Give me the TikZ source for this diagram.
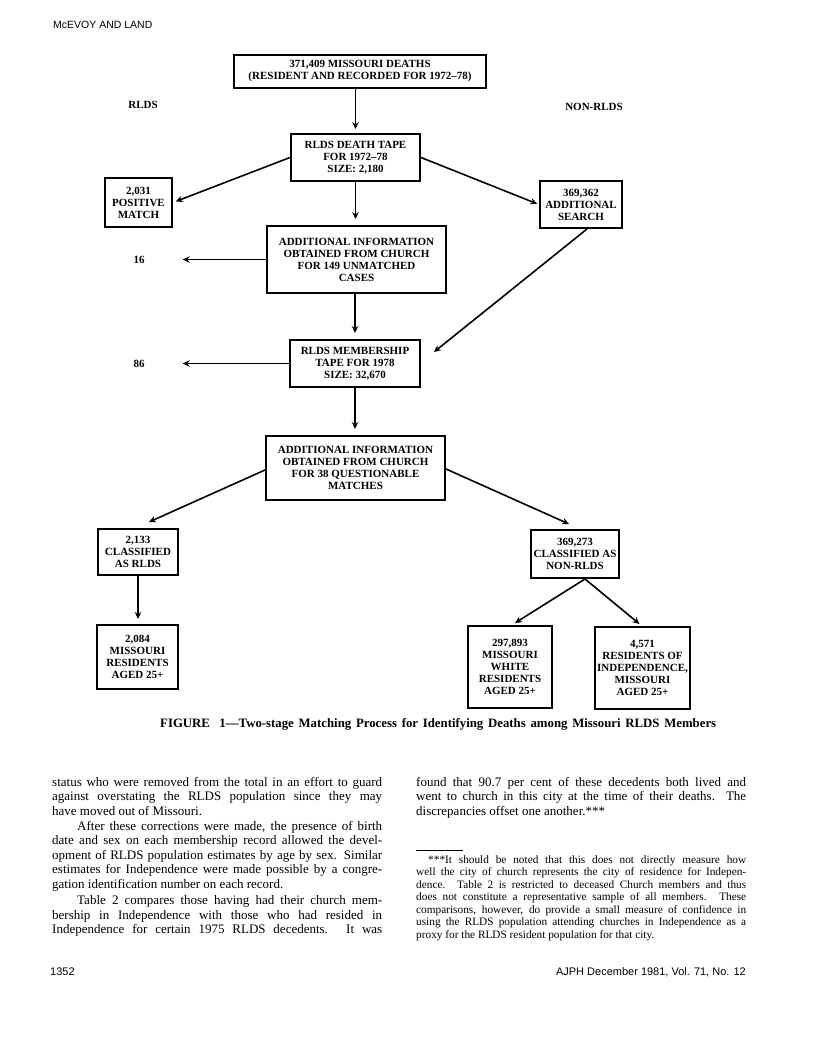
\documentclass[tikz,border=0pt]{standalone}
\usepackage{fontspec}
\setmainfont{Liberation Serif}
\newfontfamily\hsans{Liberation Sans}
\usetikzlibrary{arrows.meta,calc}
\newcommand{\boxfont}{\bfseries\fontsize{11}{12}\selectfont}
\newcommand{\bodyfont}{\fontsize{13}{14.3}\selectfont}
\newcommand{\notefont}{\fontsize{11.3}{12.8}\selectfont}
\newcommand{\jl}[1]{\makebox[330pt][s]{#1}}
\begin{document}
\begin{tikzpicture}[x=1pt,y=-1pt,
  fbox/.style={draw, line width=2pt, inner sep=0pt, align=center, font=\boxfont},
  arr/.style={line width=1.6pt, -{Stealth[length=7pt,width=6.5pt,inset=2.4pt]}},
  lbl/.style={font=\boxfont, inner sep=0pt},
  bodyl/.style={anchor=mid west, inner sep=0pt, font=\bodyfont},
  notel/.style={anchor=mid west, inner sep=0pt, font=\notefont},
  sansl/.style={inner sep=0pt, font=\hsans\fontsize{10.5}{12}\selectfont}]
\fill[white] (0,0) rectangle (816,1039);
\path[use as bounding box] (0,0) rectangle (816,1039);

% header
\node[sansl, anchor=mid west] (hdr) at (53,26) {McEVOY AND LAND};

% flowchart boxes
\node[fbox, minimum width=252pt, minimum height=33pt] (top) at (360,71.5) {371,409 MISSOURI DEATHS\\(RESIDENT AND RECORDED FOR 1972–78)};
\node[lbl] (rlds) at (143,105) {RLDS};
\node[lbl] (nonrlds) at (594,107) {NON-RLDS};
\node[fbox, minimum width=129pt, minimum height=47pt] (tape) at (355.5,157.5) {RLDS DEATH TAPE\\FOR 1972–78\\SIZE: 2,180};
\node[fbox, minimum width=67pt, minimum height=49pt] (pos) at (138.5,202.5) {2,031\\POSITIVE\\MATCH};
\node[fbox, minimum width=82pt, minimum height=47pt] (search) at (581,204.5) {369,362\\ADDITIONAL\\SEARCH};
\node[fbox, minimum width=179pt, minimum height=67pt] (add1) at (356.5,259.5) {ADDITIONAL INFORMATION\\OBTAINED FROM CHURCH\\FOR 149 UNMATCHED\\CASES};
\node[lbl] (n16) at (139,260) {16};
\node[fbox, minimum width=130pt, minimum height=47pt] (mem) at (355,363.5) {RLDS MEMBERSHIP\\TAPE FOR 1978\\SIZE: 32,670};
\node[lbl] (n86) at (139,364) {86};
\node[fbox, minimum width=179pt, minimum height=64pt] (add2) at (355.5,468) {ADDITIONAL INFORMATION\\OBTAINED FROM CHURCH\\FOR 38 QUESTIONABLE\\MATCHES};
\node[fbox, minimum width=80pt, minimum height=46pt] (crl) at (138,552) {2,133\\CLASSIFIED\\AS RLDS};
\node[fbox, minimum width=88pt, minimum height=48pt] (cnr) at (575,554) {369,273\\CLASSIFIED AS\\NON-RLDS};
\node[fbox, minimum width=81pt, minimum height=64pt] (mres) at (137.5,657) {2,084\\MISSOURI\\RESIDENTS\\AGED 25+};
\node[fbox, minimum width=84pt, minimum height=82pt] (white) at (510,667) {297,893\\MISSOURI\\WHITE\\RESIDENTS\\AGED 25+};
\node[fbox, minimum width=95pt, minimum height=82pt] (indep) at (642.5,668) {4,571\\RESIDENTS OF\\INDEPENDENCE,\\MISSOURI\\AGED 25+};

% connectors
\draw[arr, shorten >=4pt] (top.south -| tape.north) -- (tape.north);
\draw[arr, shorten >=3pt] (tape.west) -- (pos.east);
\draw[arr, shorten >=2pt] (tape.east) -- (search.west);
\draw[arr, shorten >=6pt] (tape.south) -- (add1.north -| tape.south);
\draw[arr, shorten >=38pt] (add1.west) -- (add1.west -| n16.east);
\draw[arr] ($(search.south)+(6,0)$) -- ($(mem.north east)+(13,13)$);
\draw[arr, shorten >=6pt] (mem.north |- add1.south) -- (mem.north);
\draw[arr, shorten >=38pt] (mem.west) -- (mem.west -| n86.east);
\draw[arr, shorten >=6pt] (mem.south) -- (add2.north -| mem.south);
\draw[arr] ($(add2.west)+(0,2)$) -- ($(crl.north)+(11,-6)$);
\draw[arr] ($(add2.east)+(0,1)$) -- ($(cnr.north)+(-6,-5)$);
\draw[arr, shorten >=5pt] (crl.south) -- (mres.north -| crl.south);
\draw[arr] ($(cnr.south)+(10,0)$) -- ($(white.north)+(5,-2)$);
\draw[arr] ($(cnr.south)+(10,0)$) -- ($(indep.north)+(-3,-2)$);

% caption
\node[anchor=mid west, inner sep=0pt, font=\bfseries\fontsize{12.8}{14}\selectfont] (cap) at (160,725) {\makebox[556pt][s]{FIGURE\ \ 1—Two-stage Matching Process for Identifying Deaths among Missouri RLDS Members}};

% left column
\node[bodyl] (l1) at (52,784) {\jl{status who were removed from the total in an effort to guard}};
\node[bodyl] (l2) at (52,798.5) {\jl{against overstating the RLDS population since they may}};
\node[bodyl] (l3) at (52,813) {have moved out of Missouri.};
\node[bodyl] (l4) at (52,828) {\jl{\hspace*{25pt}After these corrections were made, the presence of birth}};
\node[bodyl] (l5) at (52,842.5) {\jl{date and sex on each membership record allowed the devel-}};
\node[bodyl] (l6) at (52,857) {\jl{opment of RLDS population estimates by age by sex. Similar}};
\node[bodyl] (l7) at (52,871.5) {\jl{estimates for Independence were made possible by a congre-}};
\node[bodyl] (l8) at (52,886) {gation identification number on each record.};
\node[bodyl] (l9) at (52,902) {\jl{\hspace*{25pt}Table 2 compares those having had their church mem-}};
\node[bodyl] (l10) at (52,917) {\jl{bership in Independence with those who had resided in}};
\node[bodyl] (l11) at (52,931.5) {\jl{Independence for certain 1975 RLDS decedents. It was}};

% right column
\node[bodyl] (r1) at (416,784) {\jl{found that 90.7 per cent of these decedents both lived and}};
\node[bodyl] (r2) at (416,798.5) {\jl{went to church in this city at the time of their deaths. The}};
\node[bodyl] (r3) at (416,813) {discrepancies offset one another.***};
\draw[line width=0.8pt] (416,850) -- (463,850);
\node[notel] (f1) at (416,861) {\jl{\hspace*{12pt}***It should be noted that this does not directly measure how}};
\node[notel] (f2) at (416,873.5) {\jl{well the city of church represents the city of residence for Indepen-}};
\node[notel] (f3) at (416,886) {\jl{dence. Table 2 is restricted to deceased Church members and thus}};
\node[notel] (f4) at (416,898.5) {\jl{does not constitute a representative sample of all members. These}};
\node[notel] (f5) at (416,911) {\jl{comparisons, however, do provide a small measure of confidence in}};
\node[notel] (f6) at (416,923.5) {\jl{using the RLDS population attending churches in Independence as a}};
\node[notel] (f7) at (416,936) {proxy for the RLDS resident population for that city.};

% footer
\node[sansl, anchor=mid west, font=\hsans\fontsize{11}{12}\selectfont] (pg) at (50,973) {1352};
\node[sansl, anchor=mid east, font=\hsans\fontsize{11}{12}\selectfont] (jr) at (746,973) {AJPH December 1981, Vol. 71, No. 12};
\end{tikzpicture}
\end{document}
